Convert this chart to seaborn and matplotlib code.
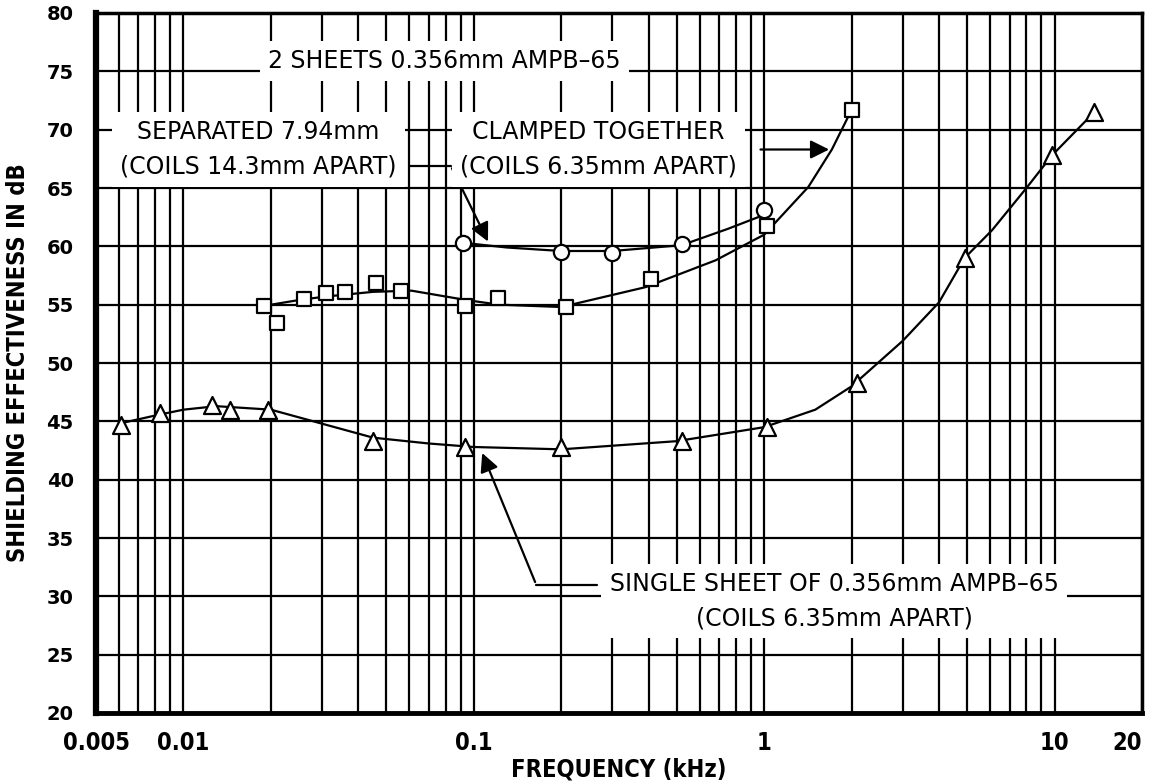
import numpy as np
import pandas as pd
import matplotlib
matplotlib.use("Agg")
import matplotlib.pyplot as plt
import seaborn as sns

# single sheet 0.356mm AMPB-65 (triangles)
tri_khz = [0.0061, 0.0083, 0.0125, 0.0145, 0.0195, 0.045, 0.093, 0.2, 0.52, 1.02, 2.08, 4.9, 9.8, 13.7]
tri_db = [44.7, 45.7, 46.4, 46.0, 46.0, 43.3, 42.8, 42.8, 43.3, 44.5, 48.3, 59.0, 67.8, 71.5]
tri_curve_khz = [0.006, 0.008, 0.01, 0.013, 0.02, 0.03, 0.045, 0.07, 0.1, 0.2, 0.5, 1.0, 1.5, 2.0, 3.0, 4.0, 4.9, 6.1, 8.0, 9.8, 13.7]
tri_curve_db = [44.8, 45.5, 46.0, 46.3, 46.0, 44.8, 43.6, 43.1, 42.8, 42.6, 43.3, 44.5, 46.0, 48.0, 51.9, 55.2, 59.0, 61.4, 65.0, 67.8, 71.5]

# clamped together (squares)
sq_khz = [0.019, 0.021, 0.026, 0.031, 0.036, 0.046, 0.056, 0.093, 0.121, 0.208, 0.408, 1.02, 2.0]
sq_db = [54.9, 53.4, 55.5, 56.0, 56.1, 56.9, 56.2, 54.9, 55.6, 54.8, 57.2, 61.7, 71.7]
sq_curve_khz = [0.019, 0.025, 0.031, 0.045, 0.061, 0.094, 0.122, 0.2, 0.39, 0.68, 1.0, 1.42, 1.71, 2.0]
sq_curve_db = [54.9, 55.4, 55.7, 56.1, 56.2, 55.4, 55.0, 54.8, 56.5, 58.8, 61.0, 65.1, 68.3, 71.7]

# separated 7.94mm (circles)
ci_khz = [0.092, 0.2, 0.3, 0.52, 1.0]
ci_db = [60.3, 59.5, 59.4, 60.2, 63.1]
ci_curve_khz = [0.092, 0.13, 0.2, 0.3, 0.52, 0.75, 1.0]
ci_curve_db = [60.3, 59.9, 59.6, 59.6, 60.1, 61.5, 62.7]

xtick_vals = [0.005, 0.01, 0.1, 1, 10, 20]
xtick_labels = ["0.005", "0.01", "0.1", "1", "10", "20"]
ytick_vals = list(range(20, 81, 5))

sns.set_theme(style="white")
plt.rcParams['font.family'] = ['DejaVu Sans']
plt.rcParams['text.color'] = 'black'
plt.rcParams['xtick.color'] = 'black'
plt.rcParams['ytick.color'] = 'black'
plt.rcParams['axes.labelcolor'] = 'black'

fig = plt.figure(figsize=(11.53, 7.83), dpi=100)
ax = fig.add_axes([96 / 1153, 1 - 713 / 783, 1046 / 1153, 700 / 783])
ax.set_xscale('log')
ax.set_xlim(0.005, 20)
ax.set_ylim(20, 80)

# grid: every log sub-decade line + every 5 dB
grid_x = [m * 10.0 ** e for e in range(-3, 2) for m in range(1, 10)]
grid_x = [g for g in grid_x if 0.005 < g < 20]
ax.set_xticks(grid_x, minor=True)
ax.set_xticks(xtick_vals)
ax.set_xticklabels(xtick_labels)
ax.set_yticks(ytick_vals)
ax.grid(which='both', color='black', linewidth=1.6)
ax.tick_params(which='both', length=0)
ax.tick_params(axis='x', pad=13)
ax.tick_params(axis='y', pad=16)
for lab in ax.get_xticklabels():
    lab.set_fontweight('bold')
    lab.set_fontstretch('condensed')
    lab.set_fontsize(17)
ax.get_xticklabels()[-1].set_horizontalalignment('right')
for lab in ax.get_yticklabels():
    lab.set_fontweight('bold')
    lab.set_fontsize(14)
for side, lw in [('left', 4.5), ('bottom', 3.5), ('top', 2.5), ('right', 2.5)]:
    ax.spines[side].set_color('black')
    ax.spines[side].set_linewidth(lw)

curves = pd.concat([
    pd.DataFrame({'khz': tri_curve_khz, 'db': tri_curve_db, 's': 'single'}),
    pd.DataFrame({'khz': sq_curve_khz, 'db': sq_curve_db, 's': 'clamped'}),
    pd.DataFrame({'khz': ci_curve_khz, 'db': ci_curve_db, 's': 'separated'}),
])
sns.lineplot(data=curves, x='khz', y='db', units='s', estimator=None, sort=False,
             color='black', linewidth=1.6, ax=ax, zorder=3)

pts = [(tri_khz, tri_db, '^', 150), (sq_khz, sq_db, 's', 110), (ci_khz, ci_db, 'o', 120)]
for xs, ys, mk, size in pts:
    sns.scatterplot(x=xs, y=ys, marker=mk, s=size, facecolor='white', edgecolor='black',
                    linewidth=1.6, ax=ax, zorder=4, legend=False)

ax.set_xlabel('FREQUENCY (kHz)', fontweight='bold', fontstretch='condensed', fontsize=17, labelpad=2)
ax.set_ylabel('SHIELDING EFFECTIVENESS IN dB', fontweight='bold', fontstretch='condensed',
              fontsize=17, labelpad=12)

box = dict(facecolor='white', edgecolor='none', pad=6)
tkw = dict(fontsize=17, ha='center', va='center', zorder=5, bbox=box, linespacing=1.55)
ax.text(0.079, 75.9, '2 SHEETS 0.356mm AMPB\u201365', **tkw)
ax.text(0.0181, 68.3, 'SEPARATED 7.94mm\n(COILS 14.3mm APART)', **tkw)
ax.text(0.269, 68.3, 'CLAMPED TOGETHER\n(COILS 6.35mm APART)', **tkw)
ax.text(1.74, 29.6, 'SINGLE SHEET OF 0.356mm AMPB\u201365\n(COILS 6.35mm APART)', **tkw)

# leader lines with arrowheads
akw = dict(arrowstyle='-|>', color='black', lw=1.6, mutation_scale=28)
ax.plot([0.0597, 0.0833], [66.9, 66.9], color='black', lw=1.6, zorder=4)
ax.annotate('', xy=(0.113, 60.2), xytext=(0.0833, 66.9), arrowprops=akw, zorder=4)
ax.annotate('', xy=(1.71, 68.3), xytext=(0.95, 68.3), arrowprops=akw, zorder=4)
ax.plot([0.265, 0.164], [31.0, 31.0], color='black', lw=1.6, zorder=4)
ax.annotate('', xy=(0.106, 42.5), xytext=(0.164, 31.0), arrowprops=akw, zorder=4)

fig.savefig('out.png', dpi=100)
